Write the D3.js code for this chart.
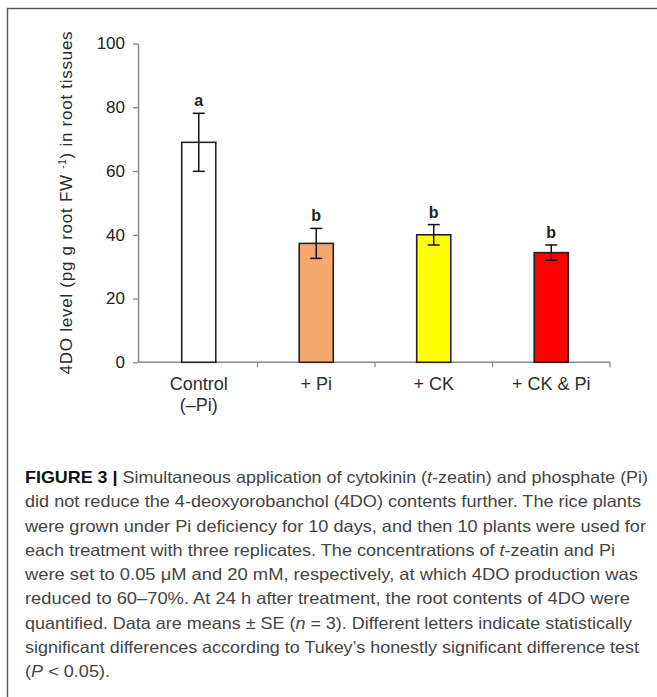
<!DOCTYPE html>
<html>
<head>
<meta charset="utf-8">
<script src="https://cdn.jsdelivr.net/npm/d3@7"></script>
<style>
  body { margin: 0; background: #fff; }
  svg { display: block; font-family: "Liberation Sans", Arial, sans-serif; }
  .tick-label { font-size: 17px; fill: #222; }
  .ytitle { font-size: 17px; fill: #2a2a2a; }
  .cat-label { font-size: 18px; fill: #2e2e2e; }
  .sig-letter { font-size: 16px; font-weight: bold; fill: #222; }
  .caption { font-size: 16.5px; fill: #444; }
</style>
</head>
<body>
<svg id="chart" width="657" height="697"></svg>
<script>
// values
var categories = ["Control", "+ Pi", "+ CK", "+ CK & Pi"];
var subLabels = ["(\u2013Pi)", "", "", ""];
var means = [69, 37.3, 40, 34.4];
var errors = [9.1, 4.7, 3.2, 2.4];
var letters = ["a", "b", "b", "b"];
var yTicks = [0, 20, 40, 60, 80, 100];

var captionLines = [
  [["FIGURE 3 | ", "b"], ["Simultaneous application of cytokinin (", ""], ["t", "i"], ["-zeatin) and phosphate (Pi)", ""]],
  [["did not reduce the 4-deoxyorobanchol (4DO) contents further. The rice plants", ""]],
  [["were grown under Pi deficiency for 10 days, and then 10 plants were used for", ""]],
  [["each treatment with three replicates. The concentrations of ", ""], ["t", "i"], ["-zeatin and Pi", ""]],
  [["were set to 0.05 \u03bcM and 20 mM, respectively, at which 4DO production was", ""]],
  [["reduced to 60\u201370%. At 24 h after treatment, the root contents of 4DO were", ""]],
  [["quantified. Data are means \u00b1 SE (", ""], ["n", "i"], [" = 3). Different letters indicate statistically", ""]],
  [["significant differences according to Tukey\u2019s honestly significant difference test", ""]],
  [["(", ""], ["P", "i"], [" < 0.05).", ""]]
];
var captionWidths = [623, 616, 621, 590, 613, 605, 607, 614, 85];

var data = categories.map(function(c, i) {
  return { label: c, sub: subLabels[i], value: means[i], se: errors[i], letter: letters[i] };
});

var svg = d3.select("#chart");

// outer frame of the figure panel
svg.append("rect")
  .attr("x", 7.5).attr("y", 8.5)
  .attr("width", 700).attr("height", 700)
  .attr("fill", "none")
  .attr("stroke", "#555")
  .attr("stroke-width", 1.4);

var plotLeft = 138, plotRight = 610;
var y = d3.scaleLinear().domain([0, 100]).range([362.3, 43.5]);
var x = d3.scaleBand().domain(categories).range([140, plotRight]).padding(0);
var barWidth = x.bandwidth() * 0.29;

var colour = d3.scaleOrdinal()
  .domain(categories)
  .range(["#ffffff", "#f5a86e", "#ffff00", "#ff0000"]);

// y axis
var yAxis = svg.append("g")
  .attr("transform", "translate(" + plotLeft + ",0)")
  .call(d3.axisLeft(y).tickValues(yTicks).tickSize(5).tickSizeOuter(0).tickPadding(8));
yAxis.select(".domain").attr("stroke", "#8a8a8a").attr("stroke-width", 1.5);
yAxis.selectAll(".tick line").attr("stroke", "#8a8a8a").attr("stroke-width", 1.3);
yAxis.selectAll(".tick text")
  .attr("class", "tick-label")
  .attr("font-size", null)
  .attr("font-family", null)
  .attr("fill", null);

// x axis line with ticks between the groups
var xAxis = svg.append("g");
xAxis.append("line")
  .attr("x1", plotLeft).attr("x2", plotRight)
  .attr("y1", y(0)).attr("y2", y(0))
  .attr("stroke", "#8a8a8a")
  .attr("stroke-width", 1.5);
xAxis.selectAll(".xtick")
  .data(categories)
  .enter()
  .append("line")
  .attr("class", "xtick")
  .attr("x1", function(d) { return x(d) + x.step(); })
  .attr("x2", function(d) { return x(d) + x.step(); })
  .attr("y1", y(0))
  .attr("y2", y(0) + 5)
  .attr("stroke", "#8a8a8a")
  .attr("stroke-width", 1.3);

// bars
svg.selectAll(".bar")
  .data(data)
  .enter()
  .append("rect")
  .attr("class", "bar")
  .attr("x", function(d) { return x(d.label) + (x.bandwidth() - barWidth) / 2; })
  .attr("y", function(d) { return y(d.value); })
  .attr("width", barWidth)
  .attr("height", function(d) { return y(0) - y(d.value); })
  .attr("fill", function(d) { return colour(d.label); })
  .attr("stroke", "#222")
  .attr("stroke-width", 1.6);

// error bars
var err = svg.selectAll(".err")
  .data(data)
  .enter()
  .append("g")
  .attr("class", "err")
  .attr("stroke", "#111")
  .attr("stroke-width", 1.5);
err.append("line")
  .attr("x1", function(d) { return x(d.label) + x.bandwidth() / 2; })
  .attr("x2", function(d) { return x(d.label) + x.bandwidth() / 2; })
  .attr("y1", function(d) { return y(d.value + d.se); })
  .attr("y2", function(d) { return y(d.value - d.se); });
[1, -1].forEach(function(sign) {
  err.append("line")
    .attr("x1", function(d) { return x(d.label) + x.bandwidth() / 2 - 6; })
    .attr("x2", function(d) { return x(d.label) + x.bandwidth() / 2 + 6; })
    .attr("y1", function(d) { return y(d.value + sign * d.se); })
    .attr("y2", function(d) { return y(d.value + sign * d.se); });
});

// significance letters
svg.selectAll(".sig-letter")
  .data(data)
  .enter()
  .append("text")
  .attr("class", "sig-letter")
  .attr("text-anchor", "middle")
  .attr("x", function(d) { return x(d.label) + x.bandwidth() / 2; })
  .attr("y", function(d) { return y(d.value + d.se) - 7; })
  .text(function(d) { return d.letter; });

// category labels
var catLabels = svg.selectAll(".cat")
  .data(data)
  .enter()
  .append("text")
  .attr("class", "cat-label")
  .attr("text-anchor", "middle")
  .attr("x", function(d) { return x(d.label) + x.bandwidth() / 2; })
  .attr("y", y(0) + 28);
catLabels.append("tspan").text(function(d) { return d.label; });
catLabels.append("tspan")
  .attr("x", function(d) { return x(d.label) + x.bandwidth() / 2; })
  .attr("dy", 21)
  .text(function(d) { return d.sub; });

// y axis title
var yTitle = svg.append("text")
  .attr("class", "ytitle")
  .attr("text-anchor", "middle")
  .attr("transform", "translate(72," + (y(0) + y(100)) / 2 + ") rotate(-90)")
  .attr("textLength", 343)
  .attr("lengthAdjust", "spacing");
yTitle.append("tspan").text("4DO level (pg g root FW ");
yTitle.append("tspan").attr("dy", -6).attr("font-size", 10).text("-1");
yTitle.append("tspan").attr("dy", 6).text(") in root tissues");

// caption
var cap = svg.append("g").attr("class", "caption");
captionLines.forEach(function(line, i) {
  var t = cap.append("text")
    .attr("x", 25)
    .attr("y", 483 + i * 24.25)
    .attr("textLength", captionWidths[i])
    .attr("lengthAdjust", "spacingAndGlyphs");
  line.forEach(function(seg) {
    t.append("tspan")
      .attr("font-weight", seg[1] == "b" ? "bold" : null)
      .attr("font-style", seg[1] == "i" ? "italic" : null)
      .attr("fill", seg[1] == "b" ? "#111" : null)
      .text(seg[0]);
  });
});
</script>
</body>
</html>
